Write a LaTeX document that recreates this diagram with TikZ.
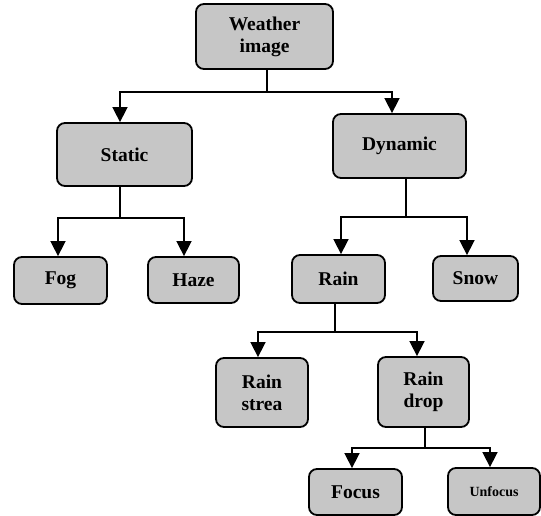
\documentclass[tikz,border=0pt]{standalone}
\usepackage{fontspec}
\setmainfont{Liberation Serif}
\usetikzlibrary{arrows.meta}
\begin{document}
\begin{tikzpicture}[x=1pt,y=-1pt,
  box/.style={draw, line width=1.8pt, rounded corners=8pt, fill=gray!45,
    font=\bfseries\fontsize{19.5}{22}\selectfont, align=center, inner sep=0pt},
  conn/.style={line width=1.6pt},
  arr/.style={line width=1.6pt, -{Triangle[width=15pt,length=15pt]}}]
\useasboundingbox (0,0) rectangle (541,516);
\node[box, minimum width=137pt, minimum height=65pt] (w) at (264.5,36.5) {Weather\\image};
\node[box, minimum width=135pt, minimum height=63pt] (st) at (124.5,154.5) {Static};
\node[box, minimum width=133pt, minimum height=64pt] (dy) at (399.5,146) {Dynamic};
\node[box, minimum width=93pt, minimum height=47pt] (fog) at (60.5,280.5) {Fog};
\node[box, minimum width=91pt, minimum height=46pt] (haze) at (193.5,280) {Haze};
\node[box, minimum width=93pt, minimum height=48pt] (rain) at (338.5,279) {Rain};
\node[box, minimum width=85pt, minimum height=45pt] (snow) at (475.5,278.5) {Snow};
\node[box, minimum width=92pt, minimum height=69pt] (rs) at (262,392.5) {Rain\\strea};
\node[box, minimum width=91pt, minimum height=70pt] (rd) at (423.5,392) {Rain\\drop};
\node[box, minimum width=93pt, minimum height=46pt] (fo) at (355.5,492) {Focus};
\node[box, minimum width=92pt, minimum height=47pt, font=\bfseries\fontsize{14}{16}\selectfont] (uf) at (494,491.5) {Unfocus};
% junctions
\coordinate (j1) at (267,92);
\coordinate (j2) at (120,218);
\coordinate (j3) at (406,217);
\coordinate (j4) at (335,332);
\coordinate (j5) at (425,448);
% weather
\draw[conn] ([xshift=2.5pt]w.south) -- (j1);
\draw[arr] (j1) -| ([xshift=-4.5pt]st.north);
\draw[arr] (j1) -| ([xshift=-7.5pt]dy.north);
% static
\draw[conn] ([xshift=-4.5pt]st.south) -- (j2);
\draw[arr] (j2) -| ([xshift=-2.5pt]fog.north);
\draw[arr] (j2) -| ([xshift=-9.5pt]haze.north);
% dynamic
\draw[conn] ([xshift=6.5pt]dy.south) -- (j3);
\draw[arr] (j3) -| ([xshift=2.5pt]rain.north);
\draw[arr] (j3) -| ([xshift=-8.5pt]snow.north);
% rain
\draw[conn] ([xshift=-3.5pt]rain.south) -- (j4);
\draw[arr] (j4) -| ([xshift=-4pt]rs.north);
\draw[arr] (j4) -| ([xshift=-6.5pt]rd.north);
% rain drop
\draw[conn] ([xshift=1.5pt]rd.south) -- (j5);
\draw[arr] (j5) -| ([xshift=-3.5pt]fo.north);
\draw[arr] (j5) -| ([xshift=-4pt]uf.north);
\end{tikzpicture}
\end{document}
